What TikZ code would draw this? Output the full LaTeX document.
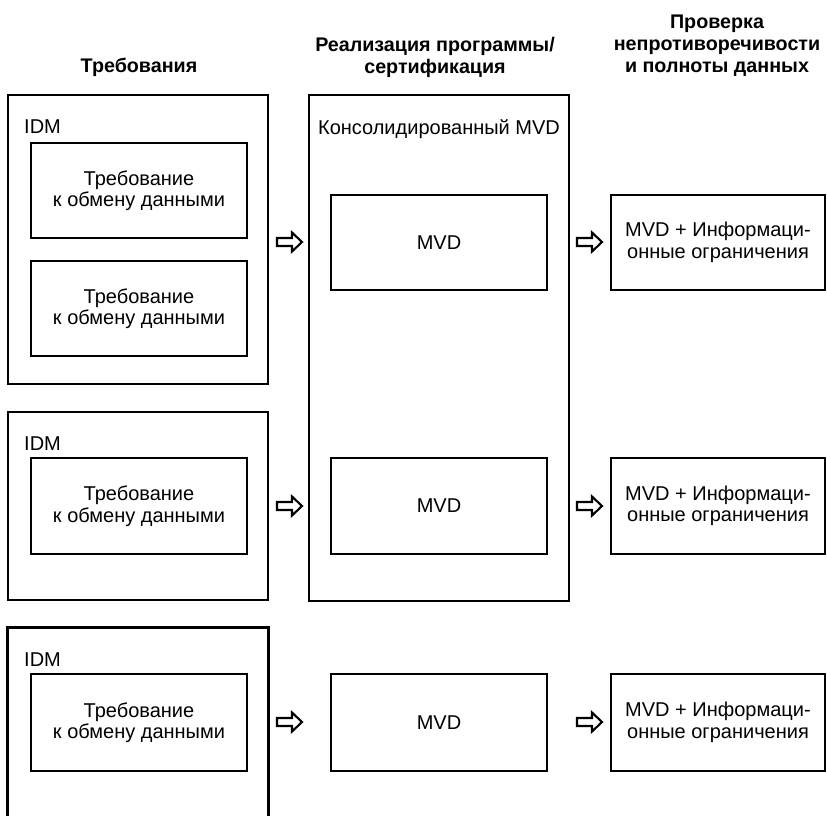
\documentclass[tikz,border=0pt]{standalone}
\usepackage{fontspec}
\setmainfont{Liberation Sans}
\begin{document}
\begin{tikzpicture}[x=1pt,y=-1pt,
  box/.style={draw, line width=2.7pt, inner sep=0pt, align=center,
    font=\fontsize{20}{21.5}\selectfont},
  reqbox/.style={box, minimum width=216pt, minimum height=95pt},
  chkbox/.style={box, minimum width=214pt, minimum height=95pt},
  outerbox/.style={box, minimum width=260pt},
  lbl/.style={inner sep=0pt, font=\fontsize{20}{21.5}\selectfont},
  head/.style={inner sep=0pt, align=center, font=\fontsize{19.7}{22}\selectfont\bfseries},
  harrow/.pic={\draw[line width=2.1pt, line join=miter]
     (0,-4)--(15,-4)--(15,-9.5)--(25,0)--(15,9.5)--(15,4)--(0,4)--cycle;}]
\useasboundingbox (0,0) rectangle (827,815);
\fill[white] (0,0) rectangle (827,815);

% headers
\node[head] (h1) at (139,67.5) {Требования};
\node[head] (h2) at (435,57.5) {Реализация программы/\\сертификация};
\node[head] (h3) at (717,45.5) {Проверка\\непротиворечивости\\и полноты данных};

% IDM column
\node[outerbox, minimum height=289pt] (idmA) at (138,239.5) {};
\node[lbl, anchor=base west] (idmAl) at (24,133) {IDM};
\node[reqbox] (reqA1) at (139,190.5) {Требование\\к обмену данными};
\node[reqbox] (reqA2) at (139,308.5) {Требование\\к обмену данными};

\node[outerbox, minimum height=188pt] (idmB) at (138,506) {};
\node[lbl, anchor=base west] (idmBl) at (24,450) {IDM};
\node[reqbox, minimum height=96pt] (reqB) at (139,506) {Требование\\к обмену данными};

\node[minimum width=260pt, minimum height=194pt, inner sep=0pt] (idmC) at (138,725) {};
\draw[line width=2.7pt] (idmC.south west) |- (idmC.north east) -- (idmC.south east);
\node[lbl, anchor=base west] (idmCl) at (24,666) {IDM};
\node[reqbox, minimum height=97pt] (reqC) at (139,722.5) {Требование\\к обмену данными};

% MVD column
\node[outerbox, minimum height=506pt] (cons) at (439,348) {};
\node[lbl, anchor=base] (consl) at (439,134) {Консолидированный MVD};
\node[reqbox] (mvd1) at (439,242.5) {MVD};
\node[reqbox, minimum height=96pt] (mvd2) at (439,506) {MVD};
\node[reqbox, minimum height=97pt] (mvd3) at (439,722.5) {MVD};

% check column
\node[chkbox] (chk1) at (718,242.5) {MVD + Информаци-\\онные ограничения};
\node[chkbox, minimum height=96pt] (chk2) at (718,506) {MVD + Информаци-\\онные ограничения};
\node[chkbox, minimum height=97pt] (chk3) at (718,722.5) {MVD + Информаци-\\онные ограничения};

% arrows
\pic (la1) at (277,242) {harrow};
\pic (la2) at (277,506) {harrow};
\pic (la3) at (277,722) {harrow};
\pic (ra1) at (577,242) {harrow};
\pic (ra2) at (577,506) {harrow};
\pic (ra3) at (577,722) {harrow};
\end{tikzpicture}
\end{document}
